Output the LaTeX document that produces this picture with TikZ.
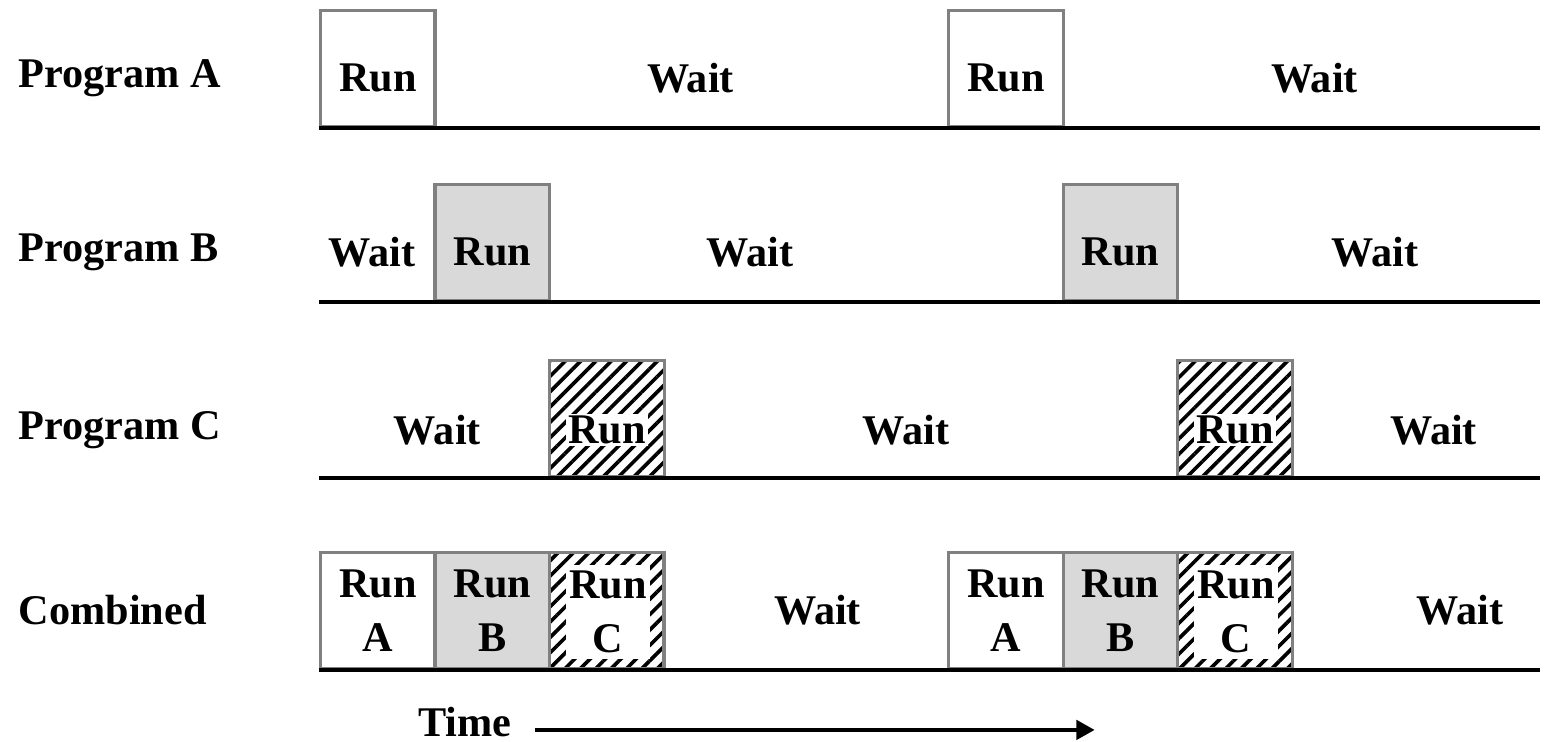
\documentclass[tikz,border=0pt]{standalone}
\usepackage{fontspec}
\setmainfont{Liberation Serif}
\usetikzlibrary{patterns.meta,arrows.meta}

\definecolor{edgegray}{gray}{0.5}
\definecolor{fillB}{gray}{0.85}

\begin{document}
\begin{tikzpicture}[
    every node/.style={font=\fontsize{10.5}{13.6}\selectfont\bfseries},
    box/.style={draw=edgegray, line width=0.8pt, anchor=south west, inner sep=0pt,
                minimum width=1cm, minimum height=1.01cm},
    runA/.style={box, fill=white, text height=0.4cm},
    runB/.style={box, fill=fillB, text height=0.4cm},
    runC/.style={box, pattern={Lines[angle=45,distance=2.7pt,line width=0.9pt]}},
    duo/.style={box, align=center},
    rowlabel/.style={anchor=west, inner sep=0pt},
    axis/.style={line width=0.9pt}
]
    \useasboundingbox[fill=white] (0,0) rectangle (13.581,-6.48);

    % Program A
    \node[rowlabel] (lblA) at (0.157,-0.68) {Program A};
    \node[runA] (a1) at (2.786,-1.118) {Run};
    \node[runA] (a2) at (8.271,-1.118) {Run};
    \node (wa1) at (6.03,-0.68) {Wait};
    \node (wa2) at (11.48,-0.68) {Wait};
    \coordinate (sA) at (2.786,-1.118); \coordinate (eA) at (13.45,-1.118);
    \draw[axis] (sA) -- (eA);

    % Program B
    \node[rowlabel] (lblB) at (0.157,-2.20) {Program B};
    \node[runB] (b1) at (3.786,-2.638) {Run};
    \node[runB] (b2) at (9.271,-2.638) {Run};
    \node (wb1) at (3.25,-2.20) {Wait};
    \node (wb2) at (6.55,-2.20) {Wait};
    \node (wb3) at (12.01,-2.20) {Wait};
    \coordinate (sB) at (2.786,-2.638); \coordinate (eB) at (13.45,-2.638);
    \draw[axis] (sB) -- (eB);

    % Program C (ratllat)
    \node[runC] (c1) at (4.786,-4.175) {};
    \node[runC] (c2) at (10.271,-4.175) {};
    \node[fill=white, inner sep=0.5pt] (rc1) at ([yshift=-0.1cm]c1.center) {Run};
    \node[fill=white, inner sep=0.5pt] (rc2) at ([yshift=-0.1cm]c2.center) {Run};
    \node[rowlabel] (lblC) at (0.157,-3.755) {Program C};
    \node (wc1) at (3.82,-3.755) {Wait};
    \node (wc2) at (7.91,-3.755) {Wait};
    \node (wc3) at (12.52,-3.755) {Wait};
    \coordinate (sC) at (2.786,-4.175); \coordinate (eC) at (13.45,-4.175);
    \draw[axis] (sC) -- (eC);

    % Combined
    \node[rowlabel] (lblD) at (0.157,-5.328) {Combined};
    \node[duo, fill=white] (d1) at (2.786,-5.852) {Run\\A};
    \node[duo, fill=fillB] (d2) at (3.786,-5.852) {Run\\B};
    \node[runC] (d3) at (4.786,-5.852) {};
    \node[fill=white, minimum width=0.74cm, minimum height=0.82cm, inner sep=0pt, align=center]
        (rd3) at ([xshift=0.01cm,yshift=-0.01cm]d3.center) {Run\\C};
    \node[duo, fill=white] (d4) at (8.271,-5.852) {Run\\A};
    \node[duo, fill=fillB] (d5) at (9.271,-5.852) {Run\\B};
    \node[runC] (d6) at (10.271,-5.852) {};
    \node[fill=white, minimum width=0.74cm, minimum height=0.82cm, inner sep=0pt, align=center]
        (rd6) at ([xshift=0.01cm,yshift=-0.01cm]d6.center) {Run\\C};
    \node (wd1) at (7.14,-5.328) {Wait};
    \node (wd2) at (12.75,-5.328) {Wait};
    \coordinate (sD) at (2.786,-5.852); \coordinate (eD) at (13.45,-5.852);
    \draw[axis] (sD) -- (eD);

    % Eix del temps
    \node[inner sep=0pt] (time) at (4.06,-6.31) {Time};
    \coordinate (t0) at (4.67,-6.375); \coordinate (t1) at (9.56,-6.375);
    \draw[axis, -{Triangle[length=1.6mm,width=1.7mm]}] (t0) -- (t1);
\end{tikzpicture}
\end{document}
